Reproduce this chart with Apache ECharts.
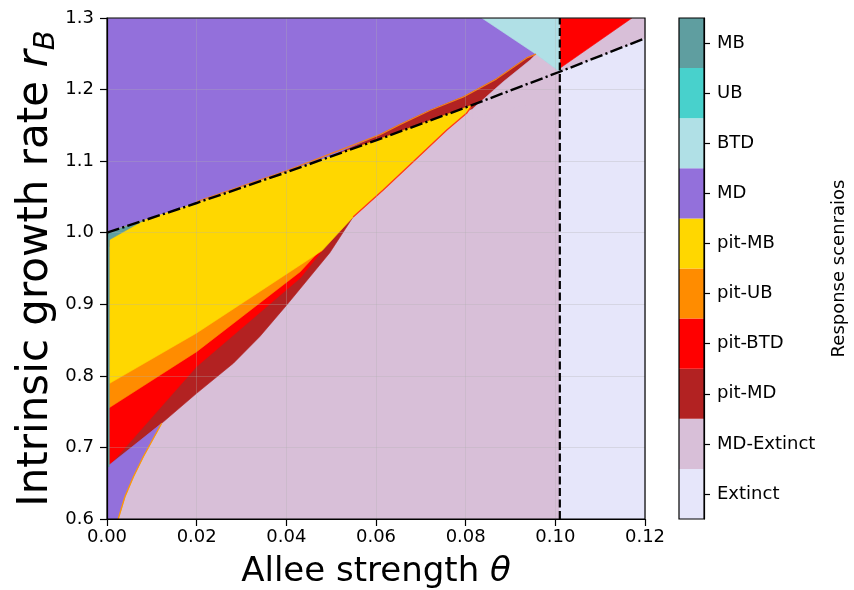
<!DOCTYPE html>
<html><head><meta charset="utf-8">
<script src="https://cdn.jsdelivr.net/npm/echarts@6/dist/echarts.min.js"></script>
<style>html,body{margin:0;padding:0;background:#fff}#c{width:854px;height:590px}</style>
</head><body><div id="c"></div>
<script>
// ---------- data ----------
const scenarioNames  = ['Extinct','MD-Extinct','pit-MD','pit-BTD','pit-UB','pit-MB','MD','BTD','UB','MB'];
const scenarioColors = ['#E6E6FA','#D8BFD8','#B22222','#FF0000','#FF8C00','#FFD700','#9370DB','#B0E0E6','#48D1CC','#5F9EA0'];

const thetaCritical = 0.101;
const boundaryDashDot = [[0,1.0],[0.02,1.0415],[0.04,1.0844],[0.06,1.129],[0.08,1.175],[0.101,1.2249],[0.12,1.2716]];
const boundaryVertical = [[0.101,0.6],[0.101,1.3]];

// region polygons (theta, r_B)
const regionMDTop = [[0,1.3],[0,1.0],[0.02,1.0415],[0.04,1.0844],[0.06,1.129],[0.08,1.175],[0.101,1.2249],[0.101,1.3]];
const regionMDExtinctLow = [[0,0.6],[0.101,0.6],[0.101,1.2249],[0.08,1.175],[0.06,1.129],[0.04,1.0844],[0.02,1.0415],[0,1.0]];
const regionExtinct = [[0.101,0.6],[0.12,0.6],[0.12,1.2716],[0.101,1.2249]];
const regionMDExtinctRight = [[0.101,1.2249],[0.12,1.2716],[0.12,1.3],[0.101,1.3]];
const regionPitBTDRight = [[0.101,1.3],[0.1171,1.3],[0.101,1.2297]];
const regionPitMDUpper = [[0.05,1.1065],[0.0609,1.137],[0.0653,1.151],[0.0721,1.1711],[0.0795,1.1898],[0.0869,1.2150],[0.0936,1.2442],[0.0957,1.2494],[0.0944,1.2413],[0.0884,1.2110],[0.0817,1.1738],[0.06,1.12],[0.05,1.10]];
const regionMDExtinctMid = [[0.0817,1.1738],[0.0884,1.2110],[0.0944,1.2413],[0.0957,1.2494],[0.101,1.2249],[0.101,1.19],[0.0817,1.16]];
const regionBTD = [[0.0836,1.3],[0.101,1.3],[0.101,1.2249],[0.0957,1.2494]];
const regionPitMDLower = [[0.0003,0.673],[0.0122,0.7337],[0.0200,0.7756],[0.0282,0.8176],[0.0341,0.855],[0.0401,0.899],[0.0497,0.972],[0.0549,1.022],[0.0549,1.10],[0.0003,1.0]];
const regionPitBTDLower = [[0.0003,0.673],[0.010,0.742],[0.020,0.813],[0.0431,0.9367],[0.048,0.975],[0.0003,0.98]];
const regionPitUBLower = [[0.0003,0.7547],[0.02,0.8338],[0.0431,0.9455],[0.047,0.972],[0.0003,0.98]];
const regionPitMB = [[0.0006,1.0012],[0.02,1.0415],[0.04,1.0844],[0.06,1.129],[0.08,1.175],[0.0815,1.1786],[0.0802,1.1669],[0.0758,1.1435],[0.0683,1.0992],[0.0616,1.0597],[0.0549,1.022],[0.048,0.975],[0.0431,0.9549],[0.02,0.8599],[0.0006,0.7896]];
const regionMDLower = [[0,0.6],[0,0.673],[0.0122,0.7337],[0.0081,0.687],[0.0059,0.659],[0.004,0.631],[0.0025,0.6]];
const regionMBStrip = [[0,0.673],[0.0005,0.673],[0.0005,0.998],[0,1.0]];
const regionMBCorner = [[0,0.99],[0.0005,0.99],[0.008,1.0166],[0,1.0]];

// thin fringes seen along some borders
const fringeYellowPink = [[0.0549,1.022],[0.0616,1.0597],[0.0683,1.0992],[0.0758,1.1435],[0.0802,1.1669],[0.0815,1.1786]];
const fringeWedge = [[0.0122,0.7337],[0.0081,0.687],[0.0059,0.659],[0.004,0.631],[0.0025,0.6]];
const fringeBandTop = [[0.02,1.0435],[0.04,1.0864],[0.0609,1.137],[0.0653,1.151],[0.0721,1.1711],[0.0795,1.1898],[0.0869,1.2150],[0.0936,1.2442],[0.0957,1.2494]];

// ---------- chart ----------
const F = 'DejaVu Sans';
const C = Object.fromEntries(scenarioNames.map((n,i)=>[n,scenarioColors[i]]));

const layers = [
  [regionMDTop, C['MD']],
  [regionMDExtinctLow, C['MD-Extinct']],
  [regionExtinct, C['Extinct']],
  [regionMDExtinctRight, C['MD-Extinct']],
  [regionPitBTDRight, C['pit-BTD']],
  [regionPitMDUpper, C['pit-MD']],
  [regionMDExtinctMid, C['MD-Extinct']],
  [regionBTD, C['BTD']],
  [regionPitMDLower, C['pit-MD']],
  [regionPitBTDLower, C['pit-BTD']],
  [regionPitUBLower, C['pit-UB']],
  [regionPitMB, C['pit-MB']],
  [regionMDLower, C['MD']],
  [regionMBStrip, C['MB']],
  [regionMBCorner, C['MB']]
];

const series = layers.map(([pts,color],k)=>({
  type:'custom', xAxisIndex:0, yAxisIndex:0, clip:true, silent:true, z:2,
  data:[pts[0]],
  renderItem:(params,api)=>({
    type:'polygon', z2:k,
    shape:{points:pts.map(p=>api.coord(p))},
    style:{fill:color, stroke:color, lineWidth:0.6}
  })
}));

function lineS(pts,color,width,type,z){
  return {type:'line', xAxisIndex:0, yAxisIndex:0, data:pts, symbol:'none', silent:true, z:z,
    lineStyle:{color:color,width:width,type:type}, clip:true};
}
series.push(lineS(fringeYellowPink,'#FF3A1A',1.3,'solid',3));
series.push(lineS(fringeWedge,'#FF9A00',1.3,'solid',3));
series.push(lineS(fringeBandTop,'#F08020',1.3,'solid',3));
series.push(lineS(boundaryDashDot,'#000',2.4,[12.8,3.2,2.2,3.2],5));
series.push(lineS(boundaryVertical,'#000',2.2,[8,3.5],5));

series.push({
  type:'bar', xAxisIndex:1, yAxisIndex:1, silent:true, barWidth:'100%', barCategoryGap:'0%',
  data: scenarioColors.map(c=>({value:1,itemStyle:{color:c}}))
});

const axisLineS = {show:true,onZero:false,lineStyle:{color:'#000',width:1.2}};
const tickS = {show:true,length:7,lineStyle:{color:'#000',width:1.2}};

const option = {
  animation:false,
  backgroundColor:'#fff',
  grid:[
    {left:107, top:18, width:538, height:501, show:true, borderColor:'#000', borderWidth:1.2, backgroundColor:'transparent', z:10, containLabel:false, outerBoundsMode:'none'},
    {left:679, top:18, width:25, height:501, show:true, borderColor:'#000', borderWidth:1.2, backgroundColor:'transparent', z:10, containLabel:false, outerBoundsMode:'none'}
  ],
  xAxis:[
    {gridIndex:0, type:'value', min:0, max:0.12, interval:0.02, z:4,
     axisLine:axisLineS, axisTick:tickS,
     axisLabel:{margin:9, fontSize:18, color:'#000', fontFamily:F, formatter:v=>v.toFixed(2)},
     splitLine:{show:true,lineStyle:{color:'rgba(176,176,176,0.3)',width:1}},
     name:'Allee strength {t|θ}', nameLocation:'middle', nameGap:36,
     nameTextStyle:{fontSize:34,color:'#000',fontFamily:F,
       rich:{t:{fontSize:34,fontStyle:'italic',fontFamily:F,color:'#000'}}}},
    {gridIndex:1, type:'value', min:0, max:1, show:false}
  ],
  yAxis:[
    {gridIndex:0, type:'value', min:0.6, max:1.3, interval:0.1, z:4,
     axisLine:axisLineS, axisTick:tickS,
     axisLabel:{margin:13, fontSize:18, color:'#000', fontFamily:F, formatter:v=>v.toFixed(1)},
     splitLine:{show:true,lineStyle:{color:'rgba(176,176,176,0.3)',width:1}},
     name:'{m|Intrinsic growth rate }{r|r}{b|B}', nameLocation:'middle', nameRotate:90, nameGap:46,
     nameMoveOverlap:false,
     nameTextStyle:{fontSize:42,color:'#000',fontFamily:F,
       rich:{m:{fontSize:42,fontFamily:F,color:'#000',lineHeight:50,verticalAlign:'middle'},
             r:{fontSize:42,fontStyle:'italic',fontFamily:F,color:'#000',lineHeight:50,verticalAlign:'middle'},
             b:{fontSize:29,fontStyle:'italic',fontFamily:F,color:'#000',lineHeight:32,verticalAlign:'bottom'}}}},
    {gridIndex:1, type:'category', data:scenarioNames, position:'right',
     axisLine:axisLineS, axisTick:{show:true,length:6,alignWithLabel:true,lineStyle:{color:'#000',width:1.2}},
     axisLabel:{margin:13, fontSize:18, color:'#000', fontFamily:F},
     splitLine:{show:false},
     name:'Response scenraios', nameLocation:'middle', nameRotate:90, nameGap:126,
     nameTextStyle:{fontSize:18,color:'#000',fontFamily:F}}
  ],
  series:series
};
const chart = echarts.init(document.getElementById('c'),null,{renderer:'canvas'});
chart.setOption(option);
</script></body></html>
